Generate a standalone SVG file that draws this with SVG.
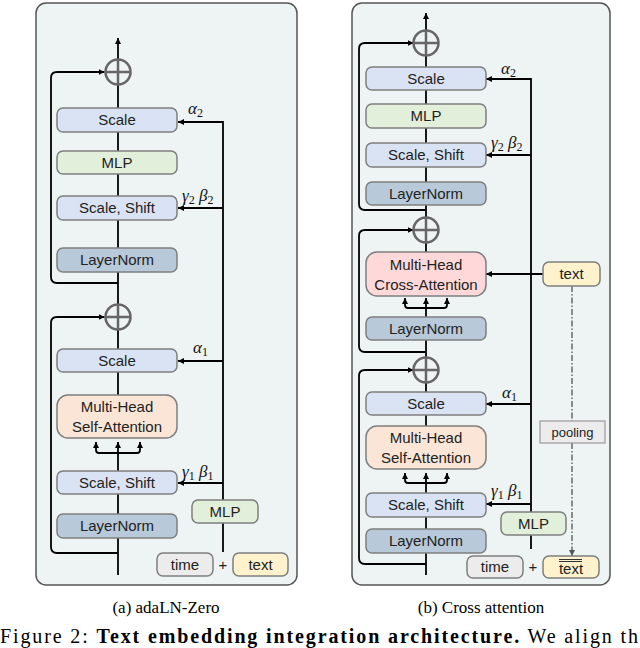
<svg xmlns="http://www.w3.org/2000/svg" width="640" height="648" viewBox="0 0 640 648">
<defs>
<marker id="ah" viewBox="0 0 10 10" refX="10" refY="5" markerWidth="6" markerHeight="6" markerUnits="userSpaceOnUse" orient="auto"><path d="M0,0 L10,5 L0,10 z" fill="#000"/></marker>
<marker id="ahg" viewBox="0 0 10 10" refX="10" refY="5" markerWidth="6" markerHeight="6" markerUnits="userSpaceOnUse" orient="auto"><path d="M0,0 L10,5 L0,10 z" fill="#555"/></marker>
<style>
.panel{fill:#eef3f3;stroke:#555;stroke-width:1.5}
.box{stroke:#7f7f7f;stroke-width:1.5}
.scale{fill:#dae3f3}
.mlp{fill:#e2efda}
.ln{fill:#b8c9da}
.mhsa{fill:#fbe5d6}
.mhca{fill:#ffd9d9}
.time{fill:#ececec}
.txt{fill:#fff2cc}
.pool{fill:#ececec;stroke:#999;stroke-width:1.2}
.t{font-family:"Liberation Sans",Arial,sans-serif;font-size:15px;fill:#222;text-anchor:middle}
.g{font-family:"Liberation Serif","Times New Roman",serif;font-style:italic;font-size:17px;fill:#111}
.sub{font-style:normal;font-size:12px}
.cap{font-family:"Liberation Serif","Times New Roman",serif;font-size:17px;fill:#000}
.fig{font-family:"Liberation Serif","Times New Roman",serif;font-size:20px;fill:#000}
.ln1{fill:none;stroke:#000;stroke-width:1.8}
.arr{fill:none;stroke:#000;stroke-width:1.8;marker-end:url(#ah)}
.dd{fill:none;stroke:#555;stroke-width:1.3;stroke-dasharray:6 2 1.5 2}
.circ{fill:#eef3f3;stroke:#666;stroke-width:2.5}
.plus{stroke:#666;stroke-width:2.5}
</style>
</defs>

<g id="panel-a"><rect class="panel" x="36" y="3" width="261" height="582" rx="10"/></g>
<g id="panel-b"><rect class="panel" x="352" y="3" width="258" height="582" rx="10"/></g>

<g id="connectors">
<path class="ln1" d="M118,575 V453"/>
<path class="arr" d="M118,453 V442"/>
<path class="arr" d="M118,453 H99 Q96,453 96,450 V442"/>
<path class="arr" d="M118,453 H137 Q140,453 140,450 V442"/>
<path class="arr" d="M118,395 V38"/>
<path class="arr" d="M118,553 H57 Q51,553 51,547 V323 Q51,317 57,317 H104.5"/>
<path class="arr" d="M118,283 H57 Q51,283 51,277 V78 Q51,72 57,72 H104.5"/>
<path class="ln1" d="M223,552 V523"/>
<path class="arr" d="M223,500 V122 H178"/>
<path class="arr" d="M223,208 H178"/>
<path class="arr" d="M223,361 H178"/>
<path class="arr" d="M223,483 H178"/>

<path class="ln1" d="M426,575 V483"/>
<path class="arr" d="M426,483 V473"/>
<path class="arr" d="M426,483 H408 Q405,483 405,480 V473"/>
<path class="arr" d="M426,483 H444 Q447,483 447,480 V473"/>
<path class="ln1" d="M426,426 V308"/>
<path class="arr" d="M426,308 V298"/>
<path class="arr" d="M426,308 H408 Q405,308 405,305 V298"/>
<path class="arr" d="M426,308 H444 Q447,308 447,305 V298"/>
<path class="arr" d="M426,252 V13"/>
<path class="arr" d="M426,564 H365 Q359,564 359,558 V376 Q359,370 365,370 H413.5"/>
<path class="arr" d="M426,352 H365 Q359,352 359,346 V236 Q359,230 365,230 H413.5"/>
<path class="arr" d="M426,210 H365 Q359,210 359,204 V49 Q359,43 365,43 H413.5"/>
<path class="ln1" d="M531,549 V535"/>
<path class="arr" d="M531,512 V79 H486"/>
<path class="arr" d="M531,155 H486"/>
<path class="arr" d="M531,404 H486"/>
<path class="arr" d="M531,504 H486"/>
<path class="arr" d="M543,274 H486"/>
<path class="dd" d="M572,286 V421"/>
<path class="dd" d="M572,443 V556" marker-end="url(#ahg)"/>
</g>

<g id="a-add2"><circle class="circ" cx="118" cy="72" r="12.5"/><path class="plus" d="M105.5,72 H130.5 M118,59.5 V84.5"/></g>
<g id="a-scale2"><rect class="box scale" x="57" y="108" width="120" height="24" rx="6"/><text class="t" x="117" y="125">Scale</text></g>
<g id="a-mlp"><rect class="box mlp" x="57" y="151" width="120" height="23" rx="6"/><text class="t" x="117" y="168">MLP</text></g>
<g id="a-scaleshift2"><rect class="box scale" x="57" y="196" width="120" height="24" rx="6"/><text class="t" x="117" y="213">Scale, Shift</text></g>
<g id="a-ln2"><rect class="box ln" x="57" y="248" width="120" height="24" rx="6"/><text class="t" x="117" y="265">LayerNorm</text></g>
<g id="a-add1"><circle class="circ" cx="118" cy="317" r="12.5"/><path class="plus" d="M105.5,317 H130.5 M118,304.5 V329.5"/></g>
<g id="a-scale1"><rect class="box scale" x="57" y="349" width="120" height="23" rx="6"/><text class="t" x="117" y="366">Scale</text></g>
<g id="a-mhsa"><rect class="box mhsa" x="57" y="395" width="120" height="43" rx="11"/><text class="t" x="117" y="412">Multi-Head</text><text class="t" x="117" y="432">Self-Attention</text></g>
<g id="a-scaleshift1"><rect class="box scale" x="57" y="471" width="120" height="23" rx="6"/><text class="t" x="117" y="488">Scale, Shift</text></g>
<g id="a-ln1"><rect class="box ln" x="57" y="514" width="120" height="24" rx="6"/><text class="t" x="117" y="531">LayerNorm</text></g>
<g id="a-cmlp"><rect class="box mlp" x="192" y="500" width="66" height="23" rx="6"/><text class="t" x="225" y="517">MLP</text></g>
<g id="a-time"><rect class="box time" x="157" y="553" width="56" height="23" rx="6"/><text class="t" x="185" y="570">time</text></g>
<g id="a-plus"><text class="t" x="223" y="570">+</text></g>
<g id="a-text"><rect class="box txt" x="233" y="553" width="55" height="23" rx="6"/><text class="t" x="260.5" y="570">text</text></g>
<g id="a-labels">
<text class="g" x="188" y="114">α<tspan class="sub" dy="3">2</tspan></text>
<text class="g" x="182" y="201">γ<tspan class="sub" dy="3">2</tspan><tspan dy="-3"> β</tspan><tspan class="sub" dy="3">2</tspan></text>
<text class="g" x="193" y="353">α<tspan class="sub" dy="3">1</tspan></text>
<text class="g" x="182" y="477">γ<tspan class="sub" dy="3">1</tspan><tspan dy="-3"> β</tspan><tspan class="sub" dy="3">1</tspan></text>
</g>

<g id="b-add3"><circle class="circ" cx="426" cy="43" r="12.5"/><path class="plus" d="M413.5,43 H438.5 M426,30.5 V55.5"/></g>
<g id="b-scale2"><rect class="box scale" x="366" y="67" width="120" height="23" rx="6"/><text class="t" x="426" y="84">Scale</text></g>
<g id="b-mlp"><rect class="box mlp" x="366" y="104" width="120" height="24" rx="6"/><text class="t" x="426" y="121">MLP</text></g>
<g id="b-scaleshift2"><rect class="box scale" x="366" y="143" width="120" height="24" rx="6"/><text class="t" x="426" y="160">Scale, Shift</text></g>
<g id="b-ln3"><rect class="box ln" x="366" y="182" width="120" height="23" rx="6"/><text class="t" x="426" y="199">LayerNorm</text></g>
<g id="b-add2"><circle class="circ" cx="426" cy="230" r="12.5"/><path class="plus" d="M413.5,230 H438.5 M426,217.5 V242.5"/></g>
<g id="b-mhca"><rect class="box mhca" x="366" y="252" width="120" height="44" rx="11"/><text class="t" x="426" y="270">Multi-Head</text><text class="t" x="426" y="290">Cross-Attention</text></g>
<g id="b-ln2"><rect class="box ln" x="366" y="317" width="120" height="23" rx="6"/><text class="t" x="426" y="334">LayerNorm</text></g>
<g id="b-add1"><circle class="circ" cx="426" cy="370" r="12.5"/><path class="plus" d="M413.5,370 H438.5 M426,357.5 V382.5"/></g>
<g id="b-scale1"><rect class="box scale" x="366" y="392" width="120" height="23" rx="6"/><text class="t" x="426" y="409">Scale</text></g>
<g id="b-mhsa"><rect class="box mhsa" x="366" y="426" width="120" height="43" rx="11"/><text class="t" x="426" y="443">Multi-Head</text><text class="t" x="426" y="463">Self-Attention</text></g>
<g id="b-scaleshift1"><rect class="box scale" x="366" y="493" width="120" height="24" rx="6"/><text class="t" x="426" y="510">Scale, Shift</text></g>
<g id="b-ln1"><rect class="box ln" x="366" y="529" width="120" height="24" rx="6"/><text class="t" x="426" y="546">LayerNorm</text></g>
<g id="b-cmlp"><rect class="box mlp" x="501" y="512" width="65" height="23" rx="6"/><text class="t" x="533.5" y="529">MLP</text></g>
<g id="b-time"><rect class="box time" x="467" y="556" width="56" height="22" rx="6"/><text class="t" x="495" y="572">time</text></g>
<g id="b-plus"><text class="t" x="533" y="572">+</text></g>
<g id="b-textpool"><rect class="box txt" x="543" y="556" width="56" height="22" rx="6"/><text class="t" x="571" y="574">text</text><path d="M559,559.5 H582 M559,561.5 H582" stroke="#333" stroke-width="1.2"/></g>
<g id="b-text"><rect class="box txt" x="543" y="262" width="57" height="24" rx="6"/><text class="t" x="571.5" y="279">text</text></g>
<g id="b-pooling"><rect class="pool" x="540" y="421" width="65" height="22"/><text class="t" x="572.5" y="437" style="font-size:13px">pooling</text></g>
<g id="b-labels">
<text class="g" x="501" y="74">α<tspan class="sub" dy="3">2</tspan></text>
<text class="g" x="491" y="148">γ<tspan class="sub" dy="3">2</tspan><tspan dy="-3"> β</tspan><tspan class="sub" dy="3">2</tspan></text>
<text class="g" x="502" y="398">α<tspan class="sub" dy="3">1</tspan></text>
<text class="g" x="491" y="496">γ<tspan class="sub" dy="3">1</tspan><tspan dy="-3"> β</tspan><tspan class="sub" dy="3">1</tspan></text>
</g>

<g id="captions">
<text class="cap" x="166" y="613" text-anchor="middle">(a) adaLN-Zero</text>
<text class="cap" x="481" y="613" text-anchor="middle">(b) Cross attention</text>
<text class="fig" x="0" y="643" textLength="638" lengthAdjust="spacing">Figure 2: <tspan font-weight="bold">Text embedding integration architecture.</tspan> We align th</text>
</g>
</svg>
